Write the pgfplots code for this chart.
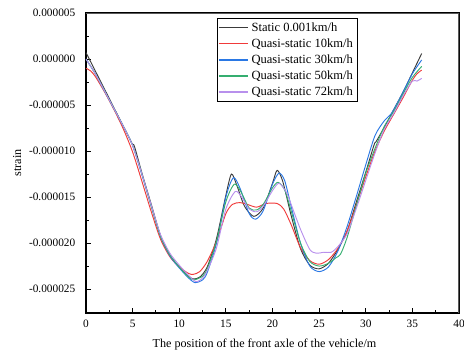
\documentclass[border=0pt]{standalone}
\usepackage{pgfplots}
\pgfplotsset{compat=1.18}
\usepackage{fontspec}
\setmainfont{Liberation Serif}
\definecolor{cStatic}{HTML}{3A3A3A}
\definecolor{cRed}{HTML}{F03A3A}
\definecolor{cBlue}{HTML}{2A78E4}
\definecolor{cGreen}{HTML}{35AE70}
\definecolor{cPurple}{HTML}{B890EC}
\begin{document}
\begin{tikzpicture}
\fontsize{8.4}{10}\selectfont
\begin{axis}[
  scale only axis,
  width=279.75pt, height=225pt,
  xmin=0, xmax=40, ymin=-27.6, ymax=5,
  xtick={0,5,...,40},
  ytick={-25,-20,-15,-10,-5,0,5},
  yticklabels={-0.000025,-0.000020,-0.000015,-0.000010,-0.000005,0.000000,0.000005},
  minor x tick num=1, minor y tick num=1,
  xtick pos=bottom, ytick pos=left,
  tick align=inside,
  major tick length=3.5pt, minor tick length=2pt,
  every tick/.style={black, line width=0.7pt},
  axis line style={black, line width=0.9pt},
  /pgf/number format/assume math mode=true,
  tick label style={font=\fontsize{8.5}{10}\selectfont},
  xticklabel style={yshift=-2pt},
  yticklabel style={xshift=-5pt},
  xlabel={The position of the front axle of the vehicle/m},
  ylabel={strain},
  label style={font=\fontsize{9.1}{11}\selectfont},
  xlabel style={yshift=-3pt, xshift=-6pt},
  legend style={at={(rel axis cs:0.35,0.983)}, anchor=north west, line width=0.6pt,
    font=\fontsize{9.4}{11}\selectfont, row sep=0.3pt, inner sep=1pt},
  legend cell align=left,
  legend image code/.code={\draw[#1, line width=1pt] (0pt,0pt) -- (22pt,0pt);},
  every axis plot/.append style={line width=0.7pt, smooth, tension=0.45},
]
\addplot[color=cStatic] coordinates {
(0,0.7)(1,-1.3)(2,-3.3)(3,-5.3)(4,-7.3)(4.8,-8.9)(5,-9.3)(5.2,-9.5)(6,-12.4)(7,-15.8)(8,-19.2)(9,-21.3)(10,-22.6)(11,-23.6)(11.5,-23.9)(12.2,-23.7)(13,-22.6)(14,-19.5)(15,-14.8)(15.6,-12.5)(16.2,-13.8)(17,-16.0)(18,-17.1)(19,-16.2)(20,-13.5)(20.5,-12.1)(21.1,-13.3)(22,-17.0)(23,-20.6)(24,-22.4)(25,-22.8)(26,-22.2)(27,-20.7)(28,-18.7)(29,-15.5)(30,-12.3)(30.9,-9.3)(31.1,-9.0)(32,-7.4)(33,-5.5)(34,-3.6)(35,-1.5)(36,0.6)
};
\addlegendentry{Static 0.001km/h}
\addplot[color=cRed] coordinates {
(0,-1.0)(0.5,-1.3)(1,-1.9)(2,-3.6)(3,-5.5)(4,-7.6)(5,-10.1)(6,-13.3)(7,-16.6)(8,-19.6)(9,-21.5)(10,-22.6)(11,-23.3)(11.5,-23.4)(12.2,-23.1)(13,-22.0)(14,-19.8)(15,-16.8)(15.7,-15.8)(16.5,-15.6)(17.3,-15.8)(18.3,-16.1)(19.3,-15.7)(20.5,-15.7)(21.2,-16.3)(22,-18.0)(23,-20.5)(24,-21.9)(25,-22.3)(26,-21.8)(27,-20.6)(28,-18.7)(29,-15.8)(30,-12.8)(31,-10.0)(32,-7.8)(33,-6.0)(34,-4.2)(35,-2.3)(35.5,-1.6)(36,-1.2)
};
\addlegendentry{Quasi-static 10km/h}
\addplot[color=cBlue] coordinates {
(0,0.0)(1,-1.6)(2,-3.5)(3,-5.4)(4,-7.3)(5,-9.4)(6,-12.6)(7,-16.0)(8,-19.3)(9,-21.4)(10,-22.7)(11,-23.8)(11.7,-24.3)(12.5,-24.0)(13,-23.2)(14,-20.0)(15,-15.0)(15.8,-12.9)(16.5,-14.0)(17.5,-16.8)(18.2,-17.4)(19,-16.5)(20,-13.6)(20.7,-12.4)(21.3,-13.2)(22,-16.0)(23,-20.0)(24,-22.5)(25,-23.1)(26,-22.6)(27,-20.9)(28,-18.2)(29,-14.9)(30,-11.5)(31,-8.3)(32,-6.7)(32.7,-6.0)(33,-5.5)(34,-3.6)(35,-1.6)(36,-0.1)
};
\addlegendentry{Quasi-static 30km/h}
\addplot[color=cGreen] coordinates {
(0,0.0)(1,-1.6)(2,-3.5)(3,-5.4)(4,-7.3)(5,-9.4)(6,-12.5)(7,-16.0)(8,-19.3)(9,-21.3)(10,-22.6)(11,-23.7)(11.6,-24.0)(12.5,-23.6)(13,-22.8)(14,-19.8)(15,-15.5)(15.9,-13.6)(16.6,-14.4)(17.5,-16.2)(18.3,-16.4)(19,-15.8)(20,-14.0)(20.6,-13.4)(21.3,-14.2)(22,-16.5)(23,-20.0)(24,-22.0)(25,-22.5)(26,-22.2)(26.8,-21.6)(27.3,-21.2)(28,-19.4)(29,-15.9)(30,-12.4)(31,-9.7)(32,-7.3)(33,-5.7)(34,-3.8)(35,-2.0)(36,-0.8)
};
\addlegendentry{Quasi-static 50km/h}
\addplot[color=cPurple] coordinates {
(0,0.0)(1,-1.6)(2,-3.5)(3,-5.4)(4,-7.3)(5,-9.4)(6,-12.5)(7,-15.9)(8,-19.1)(9,-21.1)(10,-22.4)(11,-23.5)(11.8,-24.2)(12.5,-23.8)(13,-23.0)(14,-20.5)(15,-16.3)(16,-14.4)(16.7,-15.0)(17.5,-16.3)(18.3,-16.6)(19,-16.0)(20,-14.3)(20.7,-13.5)(21.5,-14.5)(22,-15.8)(23,-18.5)(24,-20.7)(24.7,-21.1)(25.5,-21.0)(26.3,-21.0)(27,-20.4)(28,-19.0)(29,-16.2)(30,-13.2)(31,-10.2)(32,-7.6)(33,-5.9)(34,-4.0)(35,-2.4)(35.5,-2.4)(36,-2.1)
};
\addlegendentry{Quasi-static 72km/h}
\draw[gray!70!black, line width=1.1pt] (rel axis cs:0,1) -- (rel axis cs:1,1) -- (rel axis cs:1,0);
\end{axis}
\pgfresetboundingbox
\path[use as bounding box] ([shift={(-64.5pt,-33.75pt)}]current axis.south west) rectangle ([shift={(3.75pt,9.75pt)}]current axis.north east);
\end{tikzpicture}
\end{document}
